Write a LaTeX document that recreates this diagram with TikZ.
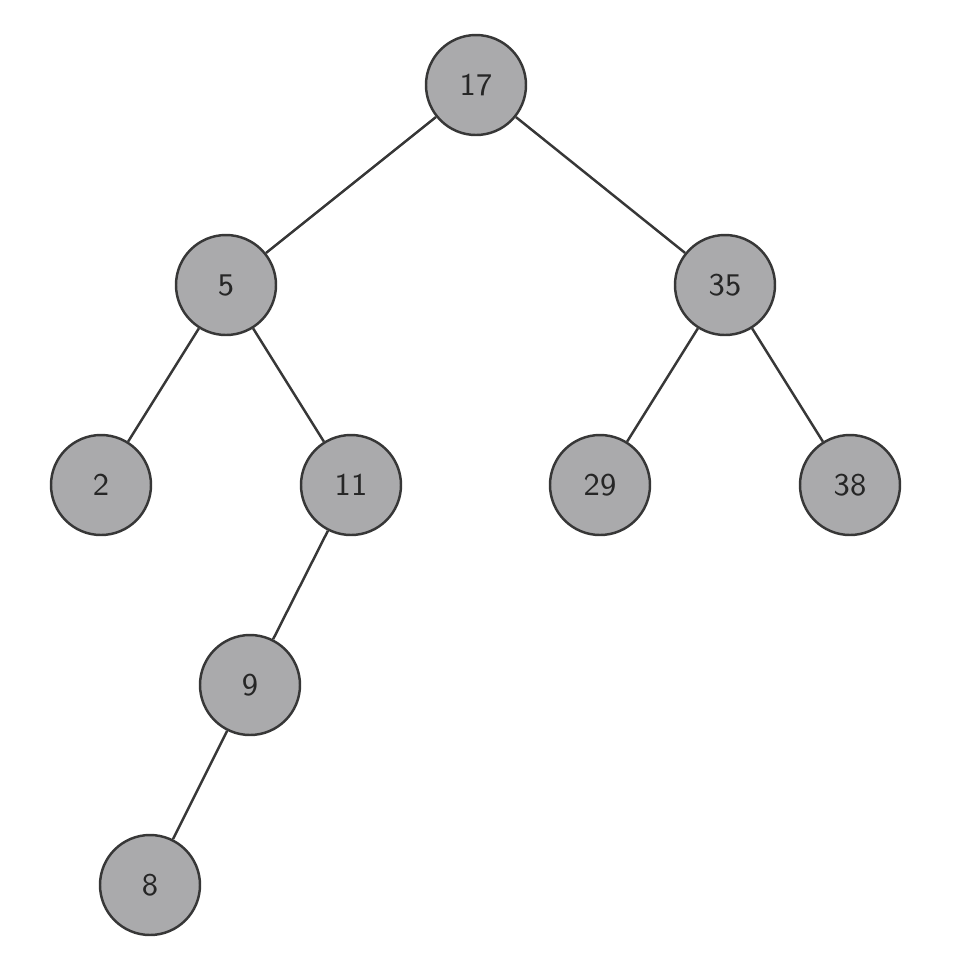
\documentclass[tikz,border=0pt]{standalone}
\usepackage{tikz}
\usepackage{xcolor}
\usetikzlibrary{positioning}
\definecolor{treegray}{RGB}{170, 170, 172}
\definecolor{treeline}{RGB}{55, 55, 55}
\tikzset{
  keynode/.style={circle, draw=treeline, fill=treegray, line width=0.7pt,
                  minimum size=1.0cm, inner sep=0pt,
                  font=\sffamily\fontsize{9}{11}\selectfont, text=black!85},
  treeedge/.style={line width=0.7pt, color=treeline},
}
\begin{document}
\begin{tikzpicture}
  \useasboundingbox (0,0) rectangle (9.67,-9.78);

  \node[keynode] (n17) at (4.76, -0.85) {17};
  \node[keynode] (n5)  at (2.26, -2.85) {5};
  \node[keynode] (n35) at (7.25, -2.85) {35};
  \node[keynode] (n2)  at (1.01, -4.85) {2};
  \node[keynode] (n11) at (3.51, -4.85) {11};
  \node[keynode] (n29) at (6.00, -4.85) {29};
  \node[keynode] (n38) at (8.50, -4.85) {38};
  \node[keynode] (n9)  at (2.50, -6.85) {9};
  \node[keynode] (n8)  at (1.50, -8.85) {8};

  \draw[treeedge] (n17) -- (n5);
  \draw[treeedge] (n17) -- (n35);
  \draw[treeedge] (n5) -- (n2);
  \draw[treeedge] (n5) -- (n11);
  \draw[treeedge] (n35) -- (n29);
  \draw[treeedge] (n35) -- (n38);
  \draw[treeedge] (n11) -- (n9);
  \draw[treeedge] (n9) -- (n8);
\end{tikzpicture}
\end{document}
